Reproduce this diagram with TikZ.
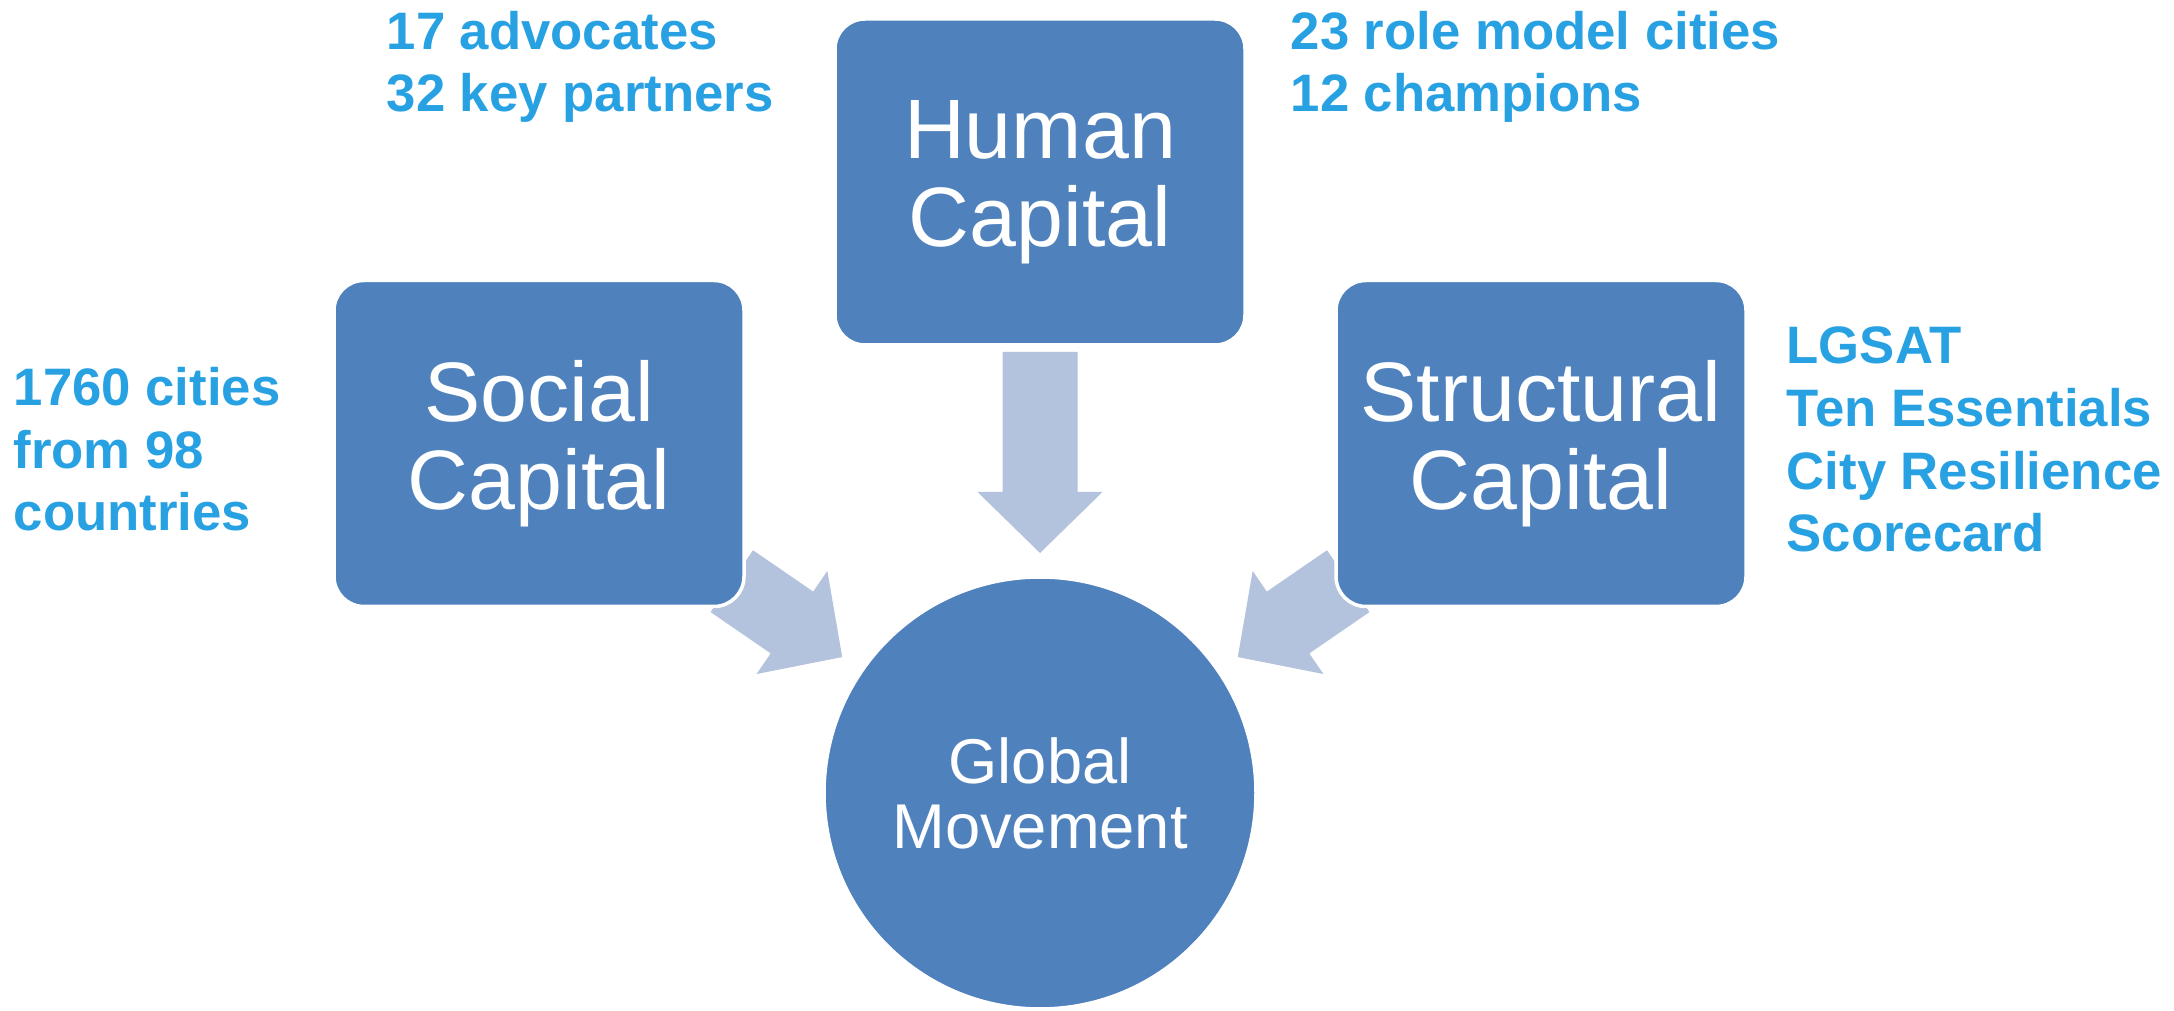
\documentclass[tikz,border=0pt]{standalone}
\usepackage{fontspec}
\setmainfont{Liberation Sans}
\usepackage{tikz}
\usetikzlibrary{calc}

\definecolor{boxblue}{RGB}{79,129,189}
\definecolor{flowblue}{RGB}{179,194,221}
\definecolor{noteblue}{RGB}{40,161,226}

\begin{document}
\begin{tikzpicture}[capbox/.style={rectangle, rounded corners=0.3cm, fill=boxblue, draw=white, line width=1pt,
                        minimum width=4.1cm, minimum height=3.26cm, inner sep=0, text=white, align=center,
                        font=\fontsize{24}{25}\selectfont},
                    hub/.style={circle, fill=boxblue, draw=white, line width=1pt, minimum size=4.32cm,
                        inner sep=0, text=white, align=center, font=\fontsize{18}{18.5}\selectfont},
                    note/.style={anchor=base west, inner sep=0, text=noteblue, align=left,
                        font=\bfseries\fontsize{15}{17.9}\selectfont},
                    flow/.style={fill=flowblue}]
            \useasboundingbox (0, 0) rectangle (21.74, 10.11);
            \node[hub] (global) at (10.4, 2.18) {Global\\Movement};
            % block arrows pointing at the circle
            \foreach \ang/\len[count=\i from 1] in {90/4.41, 145.5/3.74, 34.5/3.74}
            {
                \coordinate (tail\i) at ($(global.center) + (\ang:\len)$);
                \coordinate (tip\i) at ($(global.center) + (\ang:2.4)$);
                \coordinate (neck\i) at ($(tip\i)!0.61cm!(tail\i)$);
                \fill[flow] ($(tail\i)!0.375cm!90:(tip\i)$) -- ($(neck\i)!0.375cm!90:(tip\i)$)
                    -- ($(neck\i)!0.625cm!90:(tip\i)$) -- (tip\i) -- ($(neck\i)!0.625cm!-90:(tip\i)$)
                    -- ($(neck\i)!0.375cm!-90:(tip\i)$) -- ($(tail\i)!0.375cm!-90:(tip\i)$) -- cycle;
            }
            \node[capbox] (human) at (10.4, 8.29) {Human\\Capital};
            \node[capbox] (social) at (5.39, 5.675) {Social\\Capital};
            \node[capbox] (structural) at (15.41, 5.675) {Structural\\Capital};
            % figures next to the boxes (base = last line)
            \node[note] (advocates) at (3.86, 8.99) {17 advocates\\32 key partners};
            \node[note] (rolemodels) at (12.9, 8.99) {23 role model cities\\12 champions};
            \node[note] (cities) at (0.13, 4.80) {1760 cities\\from 98\\countries};
            \node[note] (tools) at (17.86, 4.59) {LGSAT\\Ten Essentials\\City Resilience\\Scorecard};
        \end{tikzpicture}
\end{document}
